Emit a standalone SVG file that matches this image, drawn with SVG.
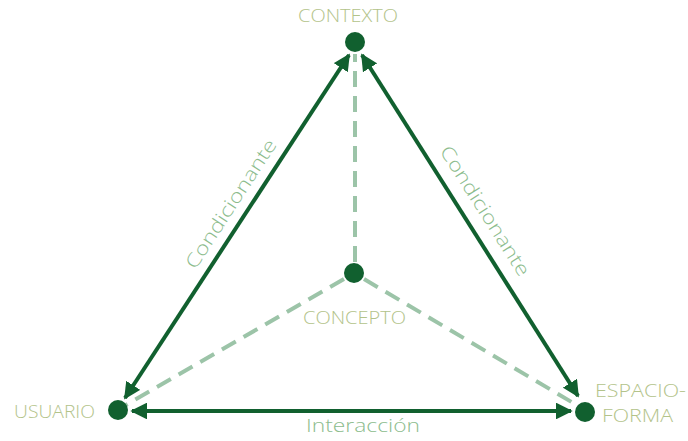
<svg xmlns="http://www.w3.org/2000/svg" width="688" height="441" viewBox="0 0 688 441">
<defs>
<marker id="ah" viewBox="0 0 10 10" refX="9" refY="5" markerWidth="4.2" markerHeight="4.2" orient="auto-start-reverse" markerUnits="strokeWidth">
<path d="M0,0 L10,5 L0,10 z" fill="#11602f"/>
</marker>
<style>
.solid{stroke:#11602f;stroke-width:4;fill:none}
.dash{stroke:#9cc4a8;stroke-width:4;fill:none;stroke-dasharray:16 9}
.dot{fill:#11602f}
.lbl{font-family:"Open Sans",Lato,sans-serif;font-weight:300;font-size:18px;fill:#b3c38a}
.edge{font-family:"Open Sans",Lato,sans-serif;font-weight:300;font-size:19px;fill:#8cbc8d}
</style>
</defs>
<rect width="688" height="441" fill="#ffffff"/>
<g id="connectors">
<line class="dash" x1="355" y1="262" x2="355" y2="54"/>
<line class="dash" x1="344" y1="279" x2="126" y2="405"/>
<line class="dash" x1="364" y1="279" x2="580" y2="407"/>
<line class="solid" x1="349" y1="55" x2="125" y2="398" marker-start="url(#ah)" marker-end="url(#ah)"/>
<line class="solid" x1="362" y1="55" x2="578" y2="396" marker-start="url(#ah)" marker-end="url(#ah)"/>
<line class="solid" x1="132" y1="411" x2="571" y2="411" marker-start="url(#ah)" marker-end="url(#ah)"/>
<text class="edge" transform="translate(239,209) rotate(-56.9)" x="-75" dy="-3" textLength="150" lengthAdjust="spacingAndGlyphs">Condicionante</text>
<text class="edge" transform="translate(477,216) rotate(57.6)" x="-75" dy="-3" textLength="150" lengthAdjust="spacingAndGlyphs">Condicionante</text>
<text class="edge" x="306" y="432" textLength="114" lengthAdjust="spacingAndGlyphs">Interacción</text>
</g>
<g id="contexto">
<circle class="dot" cx="355" cy="42" r="10"/>
<text class="lbl" x="298" y="22" textLength="100" lengthAdjust="spacingAndGlyphs">CONTEXTO</text>
</g>
<g id="usuario">
<circle class="dot" cx="118" cy="410" r="10"/>
<text class="lbl" x="14" y="418" textLength="81" lengthAdjust="spacingAndGlyphs">USUARIO</text>
</g>
<g id="espacio-forma">
<circle class="dot" cx="585" cy="412" r="10"/>
<text class="lbl" x="595" y="397" textLength="91" lengthAdjust="spacingAndGlyphs">ESPACIO-</text>
<text class="lbl" x="602" y="422" textLength="71" lengthAdjust="spacingAndGlyphs">FORMA</text>
</g>
<g id="concepto">
<circle class="dot" cx="354" cy="273" r="10"/>
<text class="lbl" x="303" y="324" textLength="103" lengthAdjust="spacingAndGlyphs">CONCEPTO</text>
</g>
</svg>
